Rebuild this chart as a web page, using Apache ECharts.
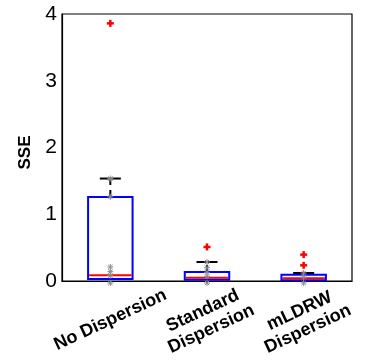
<!DOCTYPE html>
<html>
<head>
<meta charset="utf-8">
<script src="https://cdn.jsdelivr.net/npm/echarts@6/dist/echarts.min.js"></script>
<style>
  html, body { margin: 0; padding: 0; background: #fff; }
  #chart { width: 368px; height: 362px; }
</style>
</head>
<body>
<div id="chart"></div>
<script>
// data
var categories = ["No Dispersion", "Standard\nDispersion", "mLDRW\nDispersion"];
var q1 = [0.03, 0.02, 0.01];
var q3 = [1.26, 0.135, 0.095];
var medians = [0.085, 0.05, 0.04];
var whiskerTop = [1.535, 0.285, 0.12];
var outliers = [[0, 3.86], [1, 0.51], [2, 0.395], [2, 0.235]];
// gray "*" markers (raw points)
var points = [
  [0, 1.535], [0, 1.26], [0, 0.21], [0, 0.14], [0, 0.08], [0, -0.03],
  [1, 0.285], [1, 0.2], [1, 0.13], [1, 0.07], [1, -0.03],
  [2, 0.12], [2, 0.06], [2, -0.03]
];
var yTicks = [0, 1, 2, 3, 4];

var boxData = categories.map(function (c, i) {
  return [i, q1[i], q3[i], medians[i], whiskerTop[i]];
});

var font = "Liberation Sans, Arial, sans-serif";
var myChart = echarts.init(document.getElementById("chart"));

myChart.setOption({
  animation: false,
  grid: {
    left: 62,
    right: 16,
    top: 14,
    bottom: 81,
    show: true,
    borderColor: "#000",
    borderWidth: 1.2
  },
  xAxis: {
    type: "category",
    data: categories,
    axisTick: { show: false },
    axisLine: { lineStyle: { color: "#000", width: 1.2 } },
    axisLabel: {
      rotate: 25,
      align: "center",
      verticalAlign: "middle",
      margin: 39,
      interval: 0,
      color: "#000",
      fontFamily: font,
      fontWeight: "bold",
      fontSize: 18,
      lineHeight: 20
    }
  },
  yAxis: {
    type: "value",
    min: 0,
    max: 4,
    interval: 1,
    name: "SSE",
    nameLocation: "middle",
    nameGap: 28,
    nameTextStyle: {
      color: "#000",
      fontFamily: font,
      fontWeight: "bold",
      fontSize: 17,
      padding: [0, 0, 0, -10]
    },
    splitLine: { show: false },
    axisLine: { show: true, lineStyle: { color: "#000", width: 1.2 } },
    axisTick: { inside: true, length: 4, lineStyle: { color: "#000" } },
    axisLabel: {
      color: "#000",
      fontFamily: font,
      fontSize: 21,
      margin: 5,
      formatter: function (v) { return yTicks.indexOf(v) >= 0 ? String(v) : ""; }
    }
  },
  series: [
    {
      // boxes, medians, whiskers
      type: "custom",
      clip: false,
      data: boxData,
      renderItem: function (params, api) {
        var x = api.value(0);
        var lo = api.coord([x, api.value(1)]);
        var hi = api.coord([x, api.value(2)]);
        var med = api.coord([x, api.value(3)]);
        var wt = api.coord([x, api.value(4)]);
        var bw = api.size([1, 0])[0] * 0.46;
        var cx = lo[0];
        return {
          type: "group",
          children: [
            {
              type: "line",
              shape: { x1: cx, y1: hi[1], x2: cx, y2: wt[1] },
              style: { stroke: "#000", lineWidth: 2, lineDash: [7, 5] }
            },
            {
              type: "line",
              shape: { x1: cx - 10.5, y1: wt[1], x2: cx + 10.5, y2: wt[1] },
              style: { stroke: "#000", lineWidth: 2 }
            },
            {
              type: "rect",
              shape: { x: cx - bw / 2, y: hi[1], width: bw, height: lo[1] - hi[1] },
              style: { fill: "none", stroke: "#0000ff", lineWidth: 2 }
            },
            {
              type: "line",
              shape: { x1: cx - bw / 2 + 1, y1: med[1], x2: cx + bw / 2 - 1, y2: med[1] },
              style: { stroke: "#ff0000", lineWidth: 2 }
            }
          ]
        };
      },
      z: 2
    },
    {
      // gray asterisks
      type: "custom",
      clip: false,
      data: points,
      renderItem: function (params, api) {
        var p = api.coord([api.value(0), api.value(1)]);
        var r = 3, d = 2.2;
        var st = { stroke: "#8c8c8c", lineWidth: 1 };
        return {
          type: "group",
          children: [
            { type: "line", shape: { x1: p[0] - r, y1: p[1], x2: p[0] + r, y2: p[1] }, style: st },
            { type: "line", shape: { x1: p[0], y1: p[1] - r, x2: p[0], y2: p[1] + r }, style: st },
            { type: "line", shape: { x1: p[0] - d, y1: p[1] - d, x2: p[0] + d, y2: p[1] + d }, style: st },
            { type: "line", shape: { x1: p[0] - d, y1: p[1] + d, x2: p[0] + d, y2: p[1] - d }, style: st }
          ]
        };
      },
      z: 3
    },
    {
      // red "+" outliers
      type: "custom",
      data: outliers,
      renderItem: function (params, api) {
        var p = api.coord([api.value(0), api.value(1)]);
        var r = 3.5;
        var st = { stroke: "#ff0000", lineWidth: 2.5 };
        return {
          type: "group",
          children: [
            { type: "line", shape: { x1: p[0] - r, y1: p[1], x2: p[0] + r, y2: p[1] }, style: st },
            { type: "line", shape: { x1: p[0], y1: p[1] - r, x2: p[0], y2: p[1] + r }, style: st }
          ]
        };
      },
      z: 4
    }
  ]
});
</script>
</body>
</html>
